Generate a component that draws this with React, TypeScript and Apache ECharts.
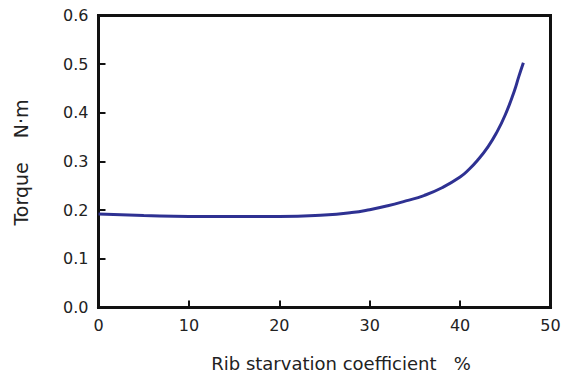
import React, { useEffect, useRef } from "react";
import * as echarts from "echarts";

const coefficient = [0, 5, 10, 15, 20, 25, 28, 30, 32, 34, 36, 38, 40, 41, 42, 43, 44, 45, 46, 46.5, 47];
const torque = [0.192, 0.189, 0.187, 0.187, 0.187, 0.19, 0.195, 0.201, 0.209, 0.219, 0.23, 0.246, 0.268, 0.284, 0.304, 0.328, 0.358, 0.396, 0.445, 0.475, 0.503];
const xTicks = [0, 10, 20, 30, 40, 50];
const yTicks = [0, 0.1, 0.2, 0.3, 0.4, 0.5, 0.6];
const xTitle = "Rib starvation coefficient   %";
const yTitle = "Torque    N·m";

export default function App() {
  const ref = useRef<HTMLDivElement>(null);
  useEffect(() => {
    if (!ref.current) return;
    const chart = echarts.init(ref.current, null, { renderer: "svg" });
    const font = "'DejaVu Sans', sans-serif";
    chart.setOption({
      animation: false,
      backgroundColor: "#ffffff",
      grid: {
        left: 98.5,
        top: 15.5,
        right: 17.5,
        bottom: 69.5,
        show: true,
        borderColor: "#111",
        borderWidth: 3,
        backgroundColor: "transparent",
      },
      xAxis: {
        type: "value",
        min: xTicks[0],
        max: xTicks[xTicks.length - 1],
        interval: 10,
        axisLine: { show: true, onZero: false, lineStyle: { color: "#111", width: 3 } },
        axisTick: { show: true, inside: true, length: 7, lineStyle: { color: "#111", width: 2 } },
        splitLine: { show: false },
        axisLabel: { color: "#222", fontSize: 16, fontFamily: font, margin: 10 },
      },
      yAxis: {
        type: "value",
        min: yTicks[0],
        max: yTicks[yTicks.length - 1],
        interval: 0.1,
        axisLine: { show: true, onZero: false, lineStyle: { color: "#111", width: 3 } },
        axisTick: { show: true, inside: true, length: 7, lineStyle: { color: "#111", width: 2 } },
        splitLine: { show: false },
        axisLabel: {
          color: "#222",
          fontSize: 16,
          fontFamily: font,
          margin: 10,
          formatter: (v: number) => v.toFixed(1),
        },
      },
      graphic: [
        {
          type: "text",
          x: 21,
          y: 162.5,
          rotation: Math.PI / 2,
          style: {
            text: yTitle,
            fill: "#222",
            font: `19px ${font}`,
            textAlign: "center",
            textVerticalAlign: "middle",
          },
        },
        {
          type: "text",
          x: 341,
          y: 363,
          style: {
            text: xTitle,
            fill: "#222",
            font: `18px ${font}`,
            textAlign: "center",
            textVerticalAlign: "middle",
          },
        },
      ],
      series: [
        {
          type: "line",
          data: coefficient.map((c, i) => [c, torque[i]]),
          smooth: true,
          showSymbol: false,
          lineStyle: { color: "#2e3192", width: 3 },
        },
      ],
    });
    return () => chart.dispose();
  }, []);
  return (
    <div
      ref={ref}
      style={{ position: "fixed", left: 0, top: 0, width: 568, height: 377 }}
    />
  );
}
